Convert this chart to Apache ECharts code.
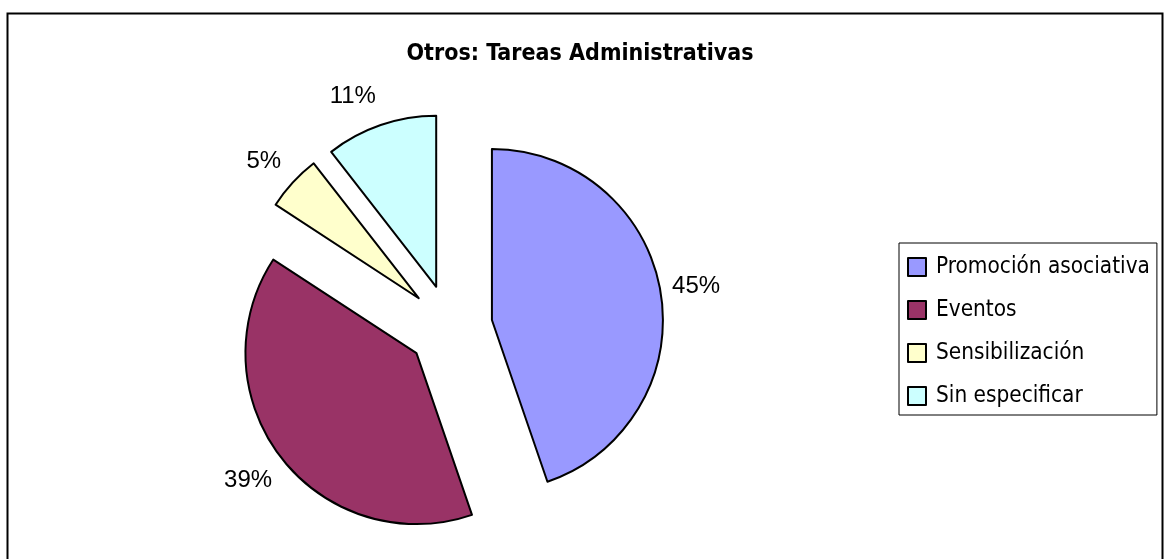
<!DOCTYPE html>
<html>
<head>
<meta charset="utf-8">
<script src="https://cdn.jsdelivr.net/npm/echarts@6/dist/echarts.min.js"></script>
<style>
html,body{margin:0;padding:0;background:#fff;}
#chart{width:1166px;height:559px;}
</style>
</head>
<body>
<div id="chart"></div>
<script>
var titleText = 'Otros: Tareas Administrativas';
var categories = ['Promoción asociativa', 'Eventos', 'Sensibilización', 'Sin especificar'];
var values = [17, 15, 2, 4];
var colors = ['#9999FF', '#993366', '#FFFFCC', '#CCFFFF'];
// per-slice label placement tweaks (label line length / length2)
var labelLen = [36, 36, 31, 30];
var labelLen2 = [-24, -19, -11, -5];

var narrow = '"Liberation Sans Narrow", "Arial Narrow", "DejaVu Sans Condensed", sans-serif';
var regular = '"Liberation Sans", Arial, sans-serif';

var chart = echarts.init(document.getElementById('chart'), null, {renderer: 'canvas'});

var data = categories.map(function (c, i) {
  return {
    name: c,
    value: values[i],
    selected: true,
    itemStyle: {color: colors[i]},
    labelLine: {show: false, length: labelLen[i], length2: labelLen2[i]}
  };
});

chart.setOption({
  animation: false,
  backgroundColor: '#fff',
  graphic: [{
    type: 'rect',
    shape: {x: 7.5, y: 13.5, width: 1155, height: 600},
    style: {fill: 'none', stroke: '#000', lineWidth: 2},
    silent: true
  }],
  title: {
    text: titleText,
    left: 575,
    top: 38,
    textAlign: 'center',
    textStyle: {fontFamily: narrow, fontWeight: 'bold', fontSize: 23, color: '#000'}
  },
  legend: {
    orient: 'vertical',
    left: 899,
    top: 243,
    padding: [11, 7, 6, 8],
    itemWidth: 18,
    itemHeight: 18,
    itemGap: 17,
    icon: 'rect',
    borderColor: '#000',
    borderWidth: 1,
    selectedMode: false,
    itemStyle: {borderColor: '#000', borderWidth: 2},
    textStyle: {fontFamily: narrow, fontSize: 22.4, lineHeight: 26, color: '#000', padding: [0, 0, 0, 5]},
    data: categories
  },
  series: [{
    type: 'pie',
    center: [450, 327],
    radius: 171,
    startAngle: 90,
    clockwise: true,
    selectedMode: 'multiple',
    selectedOffset: 42.5,
    avoidLabelOverlap: false,
    percentPrecision: 0,
    itemStyle: {borderColor: '#000', borderWidth: 2},
    select: {itemStyle: {borderColor: '#000', borderWidth: 2}},
    emphasis: {disabled: true},
    label: {
      show: true,
      position: 'outside',
      formatter: '{d}%',
      fontFamily: regular,
      fontSize: 24,
      color: '#000',
      distanceToLabelLine: 0
    },
    labelLine: {show: false},
    data: data
  }]
});
</script>
</body>
</html>
